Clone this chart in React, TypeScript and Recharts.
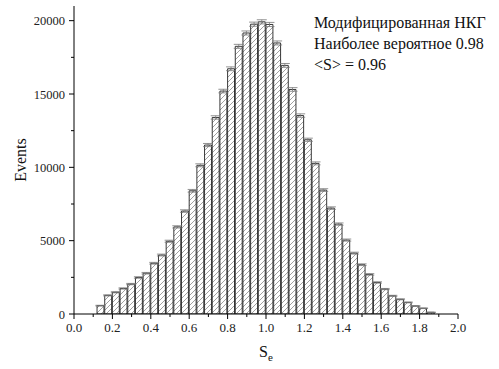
import React from 'react';
import { BarChart, Bar, XAxis, YAxis, ErrorBar, Customized } from 'recharts';

// Histogram bin centres (bin width 0.04)
const binCenters = [
  0.14, 0.18, 0.22, 0.26, 0.30, 0.34, 0.38, 0.42, 0.46, 0.50, 0.54,
  0.58, 0.62, 0.66, 0.70, 0.74, 0.78, 0.82, 0.86, 0.90, 0.94, 0.98,
  1.02, 1.06, 1.10, 1.14, 1.18, 1.22, 1.26, 1.30, 1.34, 1.38, 1.42,
  1.46, 1.50, 1.54, 1.58, 1.62, 1.66, 1.70, 1.74, 1.78, 1.82, 1.86,
];

// Counts per bin
const events = [
  570, 1270, 1480, 1740, 2040, 2490, 2780, 3460, 4020, 4960, 5940,
  7020, 8400, 10140, 11520, 13400, 15200, 16720, 18250, 19160, 19760, 19920,
  19740, 18480, 16950, 15310, 13530, 11880, 10270, 8450, 7220, 6130, 5040,
  4150, 3360, 2700, 2150, 1700, 1240, 1000, 790, 545, 390, 115,
];

// Statistical uncertainty per bin
const errors = [
  24, 36, 38, 42, 45, 50, 53, 59, 63, 70, 77,
  84, 92, 101, 107, 116, 123, 129, 135, 138, 141, 141,
  141, 136, 130, 124, 116, 109, 101, 92, 85, 78, 71,
  64, 58, 52, 46, 41, 35, 32, 28, 23, 20, 11,
];

const xTicks = [0, 0.1, 0.2, 0.3, 0.4, 0.5, 0.6, 0.7, 0.8, 0.9, 1.0, 1.1, 1.2, 1.3, 1.4, 1.5, 1.6, 1.7, 1.8, 1.9, 2.0];
const yTicks = [0, 2500, 5000, 7500, 10000, 12500, 15000, 17500, 20000];

const legendLines = ['Модифицированная НКГ', 'Наиболее вероятное 0.98', '<S> = 0.96'];

const data = binCenters.map((x, i) => ({ x, events: events[i], err: errors[i] }));

const FONT = '"Liberation Serif", "Times New Roman", serif';

const XTick = (props: any) => {
  const { x, y, payload } = props;
  const major = Math.round(payload.value * 10) % 2 === 0;
  return (
    <g>
      <line x1={x} y1={y} x2={x} y2={y + (major ? 5 : 3)} stroke="#000" strokeWidth={1} />
      {major && (
        <text x={x} y={y + 18} textAnchor="middle" fontFamily={FONT} fontSize={13} fill="#222">
          {payload.value.toFixed(1)}
        </text>
      )}
    </g>
  );
};

const YTick = (props: any) => {
  const { x, y, payload } = props;
  const major = payload.value % 5000 === 0;
  return (
    <g>
      <line x1={x - (major ? 5 : 3)} y1={y} x2={x} y2={y} stroke="#000" strokeWidth={1} />
      {major && (
        <text x={x - 9} y={y + 4.5} textAnchor="end" fontFamily={FONT} fontSize={12.5} fill="#222">
          {payload.value}
        </text>
      )}
    </g>
  );
};

const Annotations = () => (
  <g fontFamily={FONT} fill="#111">
    {legendLines.map((t, i) => (
      <text key={i} x={314} y={28 + i * 21} fontSize={16}>
        {t}
      </text>
    ))}
    <text x={26} y={160} fontSize={16} textAnchor="middle" transform="rotate(-90 26 160)">
      Events
    </text>
    <text x={266} y={357} fontSize={16} textAnchor="middle">
      S<tspan fontSize={11} dy={4}>e</tspan>
    </text>
  </g>
);

export default function App() {
  return (
    <div style={{ position: 'absolute', left: 0, top: 0, width: 499, height: 369, background: '#fff' }}>
      <svg width={0} height={0} style={{ position: 'absolute' }}>
        <defs>
          <pattern id="hatch" patternUnits="userSpaceOnUse" width={5} height={5}>
            <rect width={5} height={5} fill="#fff" />
            <path d="M0,5 L5,0 M-1,1 L1,-1 M4,6 L6,4" stroke="#777" strokeWidth={0.7} />
          </pattern>
        </defs>
      </svg>
      <BarChart
        width={499}
        height={369}
        data={data}
        margin={{ top: 6, right: 41, bottom: 0, left: 0 }}
      >
        <XAxis
          dataKey="x"
          type="number"
          domain={[0, 2]}
          ticks={xTicks}
          interval={0}
          allowDataOverflow
          height={55}
          tickSize={0}
          tickMargin={0}
          tickLine={false}
          axisLine={{ stroke: '#000', strokeWidth: 1 }}
          tick={<XTick />}
        />
        <YAxis
          type="number"
          domain={[0, 21000]}
          ticks={yTicks}
          interval={0}
          allowDataOverflow
          width={74}
          tickSize={0}
          tickMargin={0}
          tickLine={false}
          axisLine={{ stroke: '#000', strokeWidth: 1 }}
          tick={<YTick />}
        />
        <Bar
          dataKey="events"
          barSize={7.7}
          fill="url(#hatch)"
          stroke="#222"
          strokeWidth={0.9}
          isAnimationActive={false}
        >
          <ErrorBar dataKey="err" width={5} stroke="#777" strokeWidth={0.8} direction="y" isAnimationActive={false} />
        </Bar>
        <Customized component={Annotations} />
      </BarChart>
    </div>
  );
}
